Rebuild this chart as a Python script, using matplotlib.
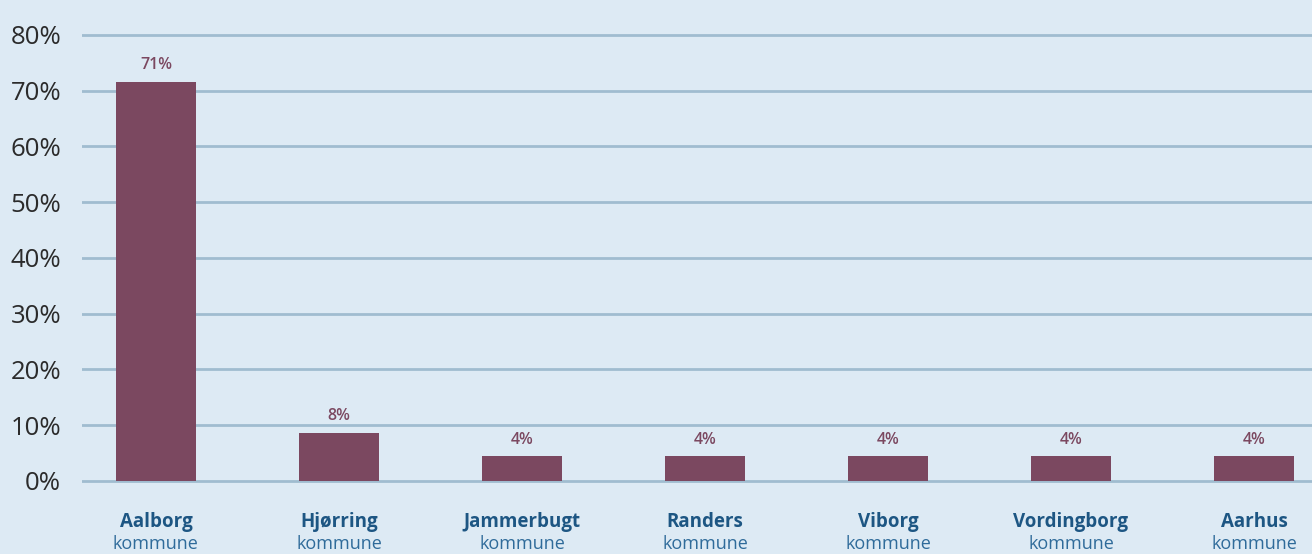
import matplotlib
matplotlib.use("Agg")
import matplotlib.pyplot as plt

categories = ["Aalborg", "Hjørring", "Jammerbugt", "Randers", "Viborg", "Vordingborg", "Aarhus"]
subtitle = "kommune"
values = [71.5, 8.6, 4.4, 4.4, 4.4, 4.4, 4.4]
value_labels = ["71%", "8%", "4%", "4%", "4%", "4%", "4%"]
yticks = [0, 10, 20, 30, 40, 50, 60, 70, 80]
ytick_labels = ["0%", "10%", "20%", "30%", "40%", "50%", "60%", "70%", "80%"]

W, H = 1312, 554
bg = "#ddeaf4"
bar_color = "#7b4860"
grid_color = "#a0bcd0"
name_color = "#1d5683"
sub_color = "#2f6b9a"

fig = plt.figure(figsize=(W / 100, H / 100), dpi=100, facecolor=bg)
ppu = (481 - 35) / 80.0
ylo, yhi = -0.6, 81.0
bottom_px = 481 + (0 - ylo) * ppu
top_px = 35 - (yhi - 80) * ppu
x0 = -0.404
x1 = 6.317
ax = fig.add_axes([82 / W, (H - bottom_px) / H, (W - 82) / W, (bottom_px - top_px) / H])
ax.set_facecolor(bg)
ax.set_xlim(x0, x1)
ax.set_ylim(ylo, yhi)
for s in ax.spines.values():
    s.set_visible(False)

for t in yticks:
    ax.axhline(t, color=grid_color, lw=2.0, zorder=1)

xs = list(range(len(categories)))
ax.bar(xs, values, width=0.44, color=bar_color, zorder=2)
for x, v, lab in zip(xs, values, value_labels):
    ax.text(x, v + 1.6, lab, ha="center", va="bottom", fontsize=11.5,
            color=bar_color, fontweight="semibold", family="Open Sans")

ax.set_yticks(yticks)
ax.set_yticklabels(ytick_labels, fontsize=18.5, color="#2b2b2b", family="Open Sans")
ax.tick_params(axis="y", length=0, pad=15)
ax.set_xticks([])

for x, name in zip(xs, categories):
    ax.annotate(name, xy=(x, 0), xycoords="data", xytext=(0, -41),
                textcoords="offset pixels", ha="center", va="center",
                fontsize=13.5, fontweight="bold", color=name_color, family="Open Sans")
    ax.annotate(subtitle, xy=(x, 0), xycoords="data", xytext=(0, -63),
                textcoords="offset pixels", ha="center", va="center",
                fontsize=13, color=sub_color, family="Open Sans")

fig.savefig("out.png", dpi=100, facecolor=bg)
